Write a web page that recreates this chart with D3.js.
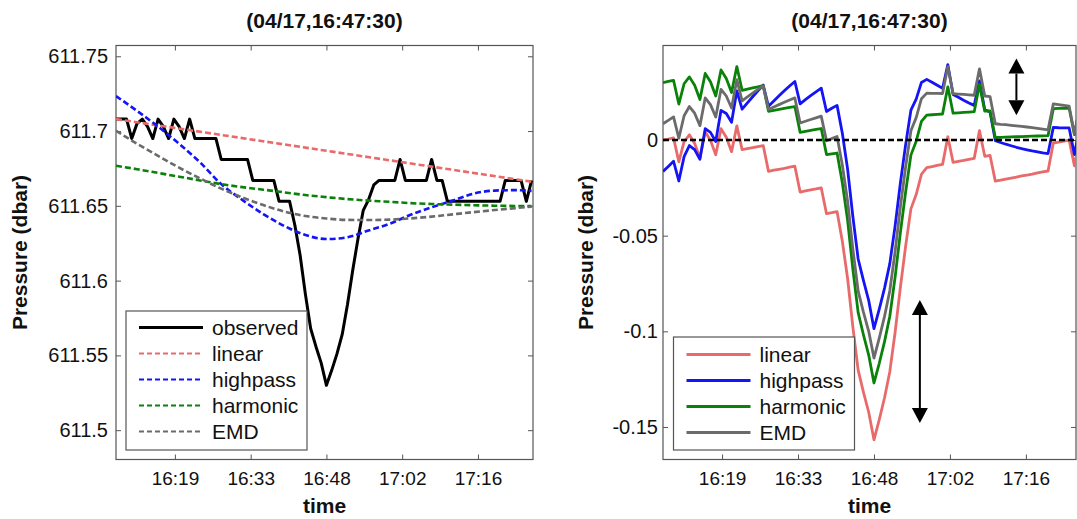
<!DOCTYPE html>
<html>
  <head>
    <meta charset="utf-8">
  </head>
  <body>
    <style>
      body { margin: 0; background: #fff; }
      svg { display: block; }
      text { font-family: Arial, "Liberation Sans", sans-serif; fill: #111; }
    </style>
    <script src="https://d3js.org/d3.v7.min.js"></script>
    <script type="text/javascript">
      const width = 1077;
      const height = 519;
      const titleText = '(04/17,16:47:30)';

      // one sample per minute
      const times = [
        '16:08', '16:09', '16:10', '16:11', '16:12', '16:13', '16:14', '16:15', '16:16', '16:17',
        '16:18', '16:19', '16:20', '16:21', '16:22', '16:23', '16:24', '16:25', '16:26', '16:27',
        '16:28', '16:29', '16:30', '16:31', '16:32', '16:33', '16:34', '16:35', '16:36', '16:37',
        '16:38', '16:39', '16:40', '16:41', '16:42', '16:43', '16:44', '16:45', '16:46', '16:47',
        '16:48', '16:49', '16:50', '16:51', '16:52', '16:53', '16:54', '16:55', '16:56', '16:57',
        '16:58', '16:59', '17:00', '17:01', '17:02', '17:03', '17:04', '17:05', '17:06', '17:07',
        '17:08', '17:09', '17:10', '17:11', '17:12', '17:13', '17:14', '17:15', '17:16', '17:17',
        '17:18', '17:19', '17:20', '17:21', '17:22', '17:23', '17:24', '17:25', '17:26', '17:27'
      ];
      const observed = [
        611.708, 611.708, 611.708, 611.695, 611.705, 611.708, 611.703, 611.695, 611.708, 611.703,
        611.695, 611.708, 611.703, 611.695, 611.708, 611.695, 611.695, 611.695, 611.695, 611.695,
        611.681, 611.681, 611.681, 611.681, 611.681, 611.681, 611.667, 611.667, 611.667, 611.667,
        611.667, 611.653, 611.653, 611.653, 611.637, 611.617, 611.591, 611.568, 611.556, 611.545,
        611.530, 611.540, 611.551, 611.564, 611.584, 611.607, 611.628, 611.647, 611.654, 611.664,
        611.667, 611.667, 611.667, 611.667, 611.681, 611.667, 611.667, 611.667, 611.667, 611.667,
        611.681, 611.667, 611.667, 611.653, 611.653, 611.653, 611.653, 611.653, 611.653, 611.653,
        611.653, 611.653, 611.653, 611.653, 611.667, 611.667, 611.667, 611.667, 611.653, 611.667
      ];

      // fitted trends (left panel)
      const linearTimes = ['16:08:00', '17:27:16'];
      const linearTrend = [611.708, 611.666];
      const trendTimes = [
        '16:08', '16:12', '16:16', '16:20', '16:24', '16:28', '16:32', '16:36', '16:40', '16:44', '16:48',
        '16:52', '16:56', '17:00', '17:04', '17:08', '17:12', '17:16', '17:20', '17:24', '17:27'
      ];
      const highpassTrend = [
        611.7234, 611.7135, 611.7030, 611.6915, 611.6790, 611.6645, 611.6540, 611.6445, 611.6365, 611.6305, 611.6278,
        611.6290, 611.6335, 611.6380, 611.6440, 611.6490, 611.6535, 611.6582, 611.6602, 611.6605, 611.6600
      ];
      const harmonicTrend = [
        611.6768, 611.6745, 611.6720, 611.6695, 611.6670, 611.6645, 611.6625, 611.6608, 611.6590, 611.6572, 611.6558,
        611.6545, 611.6535, 611.6527, 611.6518, 611.6512, 611.6508, 611.6504, 611.6501, 611.6499, 611.6498
      ];
      const emdTrend = [
        611.7002, 611.6915, 611.6834, 611.6755, 611.6683, 611.6615, 611.6556, 611.6505, 611.6462, 611.6432, 611.6415,
        611.6406, 611.6405, 611.6408, 611.6416, 611.6428, 611.6443, 611.6458, 611.6472, 611.6485, 611.6494
      ];

      // detided residuals (right panel), same minutes as observed
      const linearResidual = [
        0.0000, 0.0005, 0.0011, -0.0114, -0.0009, 0.0027, -0.0018, -0.0093, 0.0043, -0.0002,
        -0.0077, 0.0059, 0.0014, -0.0061, 0.0074, -0.0050, -0.0045, -0.0040, -0.0034, -0.0029,
        -0.0164, -0.0158, -0.0153, -0.0148, -0.0142, -0.0137, -0.0272, -0.0266, -0.0261, -0.0256,
        -0.0250, -0.0385, -0.0380, -0.0374, -0.0529, -0.0724, -0.0978, -0.1203, -0.1318, -0.1423,
        -0.1567, -0.1462, -0.1347, -0.1211, -0.1006, -0.0771, -0.0555, -0.0360, -0.0285, -0.0179,
        -0.0144, -0.0139, -0.0133, -0.0128, 0.0017, -0.0117, -0.0112, -0.0107, -0.0101, -0.0096,
        0.0049, -0.0085, -0.0080, -0.0215, -0.0210, -0.0204, -0.0199, -0.0194, -0.0188, -0.0183,
        -0.0178, -0.0172, -0.0167, -0.0162, -0.0016, -0.0011, -0.0006, 0.0000, -0.0135, 0.0010
      ];
      const highpassResidual = [
        -0.0165, -0.0138, -0.0111, -0.0214, -0.0087, -0.0029, -0.0050, -0.0101, 0.0059, 0.0040,
        -0.0008, 0.0155, 0.0139, 0.0093, 0.0257, 0.0161, 0.0194, 0.0226, 0.0257, 0.0287,
        0.0176, 0.0204, 0.0231, 0.0257, 0.0282, 0.0306, 0.0189, 0.0211, 0.0232, 0.0252,
        0.0271, 0.0149, 0.0166, 0.0181, 0.0035, -0.0152, -0.0401, -0.0622, -0.0734, -0.0839,
        -0.0986, -0.0884, -0.0774, -0.0646, -0.0450, -0.0226, -0.0024, 0.0156, 0.0214, 0.0301,
        0.0317, 0.0302, 0.0286, 0.0270, 0.0394, 0.0238, 0.0223, 0.0208, 0.0194, 0.0181,
        0.0309, 0.0158, 0.0147, -0.0003, -0.0013, -0.0022, -0.0030, -0.0038, -0.0045, -0.0051,
        -0.0057, -0.0062, -0.0067, -0.0071, 0.0066, 0.0064, 0.0063, 0.0063, -0.0076, 0.0066
      ];
      const harmonicResidual = [
        0.0300, 0.0306, 0.0312, 0.0188, 0.0294, 0.0330, 0.0286, 0.0212, 0.0348, 0.0304,
        0.0230, 0.0366, 0.0322, 0.0248, 0.0384, 0.0260, 0.0266, 0.0272, 0.0278, 0.0284,
        0.0150, 0.0155, 0.0160, 0.0165, 0.0170, 0.0175, 0.0040, 0.0045, 0.0050, 0.0055,
        0.0060, -0.0076, -0.0072, -0.0068, -0.0224, -0.0420, -0.0676, -0.0902, -0.1018, -0.1124,
        -0.1270, -0.1167, -0.1054, -0.0921, -0.0718, -0.0485, -0.0272, -0.0079, -0.0006, 0.0097,
        0.0130, 0.0132, 0.0134, 0.0136, 0.0278, 0.0140, 0.0142, 0.0144, 0.0146, 0.0148,
        0.0290, 0.0151, 0.0152, 0.0013, 0.0014, 0.0015, 0.0016, 0.0017, 0.0018, 0.0019,
        0.0020, 0.0021, 0.0022, 0.0023, 0.0164, 0.0165, 0.0166, 0.0167, 0.0028, 0.0169
      ];
      const emdResidual = [
        0.0085, 0.0103, 0.0121, 0.0009, 0.0127, 0.0175, 0.0140, 0.0075, 0.0220, 0.0185,
        0.0120, 0.0265, 0.0230, 0.0167, 0.0315, 0.0205, 0.0225, 0.0245, 0.0265, 0.0283,
        0.0160, 0.0173, 0.0185, 0.0197, 0.0209, 0.0220, 0.0089, 0.0098, 0.0107, 0.0116,
        0.0125, -0.0004, 0.0007, 0.0018, -0.0131, -0.0320, -0.0570, -0.0790, -0.0900, -0.1000,
        -0.1140, -0.1036, -0.0922, -0.0788, -0.0584, -0.0350, -0.0141, 0.0048, 0.0117, 0.0216,
        0.0245, 0.0244, 0.0244, 0.0243, 0.0383, 0.0242, 0.0240, 0.0238, 0.0236, 0.0234,
        0.0372, 0.0230, 0.0227, 0.0085, 0.0082, 0.0080, 0.0077, 0.0074, 0.0071, 0.0068,
        0.0065, 0.0061, 0.0057, 0.0053, 0.0189, 0.0185, 0.0181, 0.0177, 0.0033, 0.0170
      ];

      const xTickTimes = ['16:19:12', '16:33:36', '16:48:00', '17:02:24', '17:16:48'];
      const leftYTicks = [611.5, 611.55, 611.6, 611.65, 611.7, 611.75];
      const rightYTicks = [-0.15, -0.1, -0.05, 0];
      const leftLegend = ['observed', 'linear', 'highpass', 'harmonic', 'EMD'];
      const rightLegend = ['linear', 'highpass', 'harmonic', 'EMD'];
      // double arrows: time, upper tip, lower tip (dbar)
      const arrows = [
        { time: '17:15:00', top: 0.0426, bottom: 0.0130 },
        { time: '16:56:42', top: -0.0836, bottom: -0.1479 }
      ];

      const colors = {
        observed: '#000000',
        linear: '#e86a6a',
        highpass: '#1414f5',
        harmonic: '#0a820a',
        EMD: '#6b6b6b'
      };
      const axisColor = '#555';
      const plainNumber = (d) => String(d);

      const parseTime = (s) => d3.utcParse(s.length > 5 ? '%H:%M:%S' : '%H:%M')(s);
      const sampleDates = times.map(parseTime);
      const tickDates = xTickTimes.map(parseTime);

      const svg = d3.select('body')
        .append('svg')
        .attr('width', width)
        .attr('height', height);

      function drawFrame(x, y, yTicks, yPad, id, ylabelX) {
        const [x0, x1] = x.range();
        const [yb, yt] = y.range();
        const g = svg.append('g');
        const style = (a) => {
          a.select('.domain').remove();
          a.selectAll('line').attr('stroke', axisColor);
          a.selectAll('text').attr('font-family', 'Arial, "Liberation Sans", sans-serif').attr('fill', '#111');
        };
        g.append('g')
          .attr('transform', `translate(0,${yb})`)
          .call(d3.axisBottom(x).tickValues(tickDates).tickFormat(d3.utcFormat('%H:%M'))
            .tickSizeInner(-5).tickSizeOuter(0).tickPadding(12))
          .call(style)
          .selectAll('text').attr('font-size', 19);
        g.append('g')
          .attr('transform', `translate(0,${yt})`)
          .call(d3.axisTop(x).tickValues(tickDates).tickFormat('').tickSizeInner(-5).tickSizeOuter(0))
          .call(style);
        g.append('g')
          .attr('transform', `translate(${x0},0)`)
          .call(d3.axisLeft(y).tickValues(yTicks).tickFormat(plainNumber).tickSizeInner(-5).tickSizeOuter(0).tickPadding(yPad))
          .call(style)
          .selectAll('text').attr('font-size', 20);
        g.append('g')
          .attr('transform', `translate(${x1},0)`)
          .call(d3.axisRight(y).tickValues(yTicks).tickFormat('').tickSizeInner(-5).tickSizeOuter(0))
          .call(style);
        g.append('rect')
          .attr('x', x0).attr('y', yt)
          .attr('width', x1 - x0).attr('height', yb - yt)
          .attr('fill', 'none').attr('stroke', axisColor).attr('stroke-width', 1.2);

        svg.append('text')
          .attr('x', (x0 + x1) / 2).attr('y', 28)
          .attr('text-anchor', 'middle')
          .attr('font-size', 21).attr('font-weight', 'bold')
          .text(titleText);
        svg.append('text')
          .attr('x', (x0 + x1) / 2).attr('y', 513)
          .attr('text-anchor', 'middle')
          .attr('font-size', 21).attr('font-weight', 'bold')
          .text('time');
        svg.append('text')
          .attr('transform', `translate(${ylabelX},${(yt + yb) / 2}) rotate(-90)`)
          .attr('text-anchor', 'middle')
          .attr('dy', '0.35em')
          .attr('font-size', 21).attr('font-weight', 'bold')
          .text('Pressure (dbar)');

        svg.append('clipPath').attr('id', id)
          .append('rect')
          .attr('x', x0).attr('y', yt)
          .attr('width', x1 - x0).attr('height', yb - yt);
        return svg.append('g').attr('clip-path', `url(#${id})`);
      }

      function drawLegend(labels, box, row0, step, dashed) {
        const g = svg.append('g');
        g.append('rect')
          .attr('x', box[0]).attr('y', box[1])
          .attr('width', box[2]).attr('height', box[3])
          .attr('fill', '#fff').attr('stroke', axisColor).attr('stroke-width', 1.2);
        labels.forEach((label, i) => {
          const yy = row0 + i * step;
          const isDashed = dashed && label !== 'observed';
          g.append('line')
            .attr('x1', box[0] + 13).attr('x2', box[0] + 77)
            .attr('y1', yy).attr('y2', yy)
            .attr('stroke', colors[label])
            .attr('stroke-width', isDashed ? 2.2 : 3)
            .attr('stroke-dasharray', isDashed ? '5,3' : null);
          g.append('text')
            .attr('x', box[0] + 86).attr('y', yy)
            .attr('dy', '0.36em')
            .attr('font-size', 21)
            .text(label);
        });
      }

      // ---------- left panel: observed and trends ----------
      const xLeft = d3.scaleUtc()
        .domain([parseTime('16:08:00'), parseTime('17:27:16')])
        .range([116, 533]);
      const yLeft = d3.scaleLinear()
        .domain([611.4804, 611.7572])
        .range([459.5, 45.5]);
      const leftPlot = drawFrame(xLeft, yLeft, leftYTicks, 8, 'clipLeft', 20);

      const trendLine = d3.line()
        .x((d) => xLeft(d[0]))
        .y((d) => yLeft(d[1]))
        .curve(d3.curveMonotoneX);
      const trends = [
        { key: 'linear', dates: linearTimes.map(parseTime), values: linearTrend },
        { key: 'highpass', dates: trendTimes.map(parseTime), values: highpassTrend },
        { key: 'harmonic', dates: trendTimes.map(parseTime), values: harmonicTrend },
        { key: 'EMD', dates: trendTimes.map(parseTime), values: emdTrend }
      ];
      leftPlot.append('path')
        .datum(d3.zip(sampleDates, observed))
        .attr('d', d3.line().x((d) => xLeft(d[0])).y((d) => yLeft(d[1])))
        .attr('fill', 'none')
        .attr('stroke', colors.observed)
        .attr('stroke-width', 3)
        .attr('stroke-linejoin', 'round');
      trends.forEach((t) => {
        leftPlot.append('path')
          .datum(d3.zip(t.dates, t.values))
          .attr('d', trendLine)
          .attr('fill', 'none')
          .attr('stroke', colors[t.key])
          .attr('stroke-width', 2.6)
          .attr('stroke-dasharray', '6,3');
      });
      drawLegend(leftLegend, [126, 311, 181, 139], 327.5, 26, true);

      // ---------- right panel: residuals ----------
      const xRight = d3.scaleUtc()
        .domain([parseTime('16:08:00'), parseTime('17:26:18')])
        .range([663, 1076]);
      const yRight = d3.scaleLinear()
        .domain([-0.1670, 0.0494])
        .range([459.5, 45.5]);
      const rightPlot = drawFrame(xRight, yRight, rightYTicks, 5, 'clipRight', 586);

      const residualLine = d3.line()
        .x((d) => xRight(d[0]))
        .y((d) => yRight(d[1]));
      const residuals = [
        { key: 'linear', values: linearResidual },
        { key: 'highpass', values: highpassResidual },
        { key: 'harmonic', values: harmonicResidual },
        { key: 'EMD', values: emdResidual }
      ];
      residuals.forEach((r) => {
        rightPlot.append('path')
          .datum(d3.zip(sampleDates, r.values))
          .attr('d', residualLine)
          .attr('fill', 'none')
          .attr('stroke', colors[r.key])
          .attr('stroke-width', 2.8)
          .attr('stroke-linejoin', 'round');
      });
      rightPlot.append('line')
        .attr('x1', xRight.range()[0]).attr('x2', xRight.range()[1])
        .attr('y1', yRight(0)).attr('y2', yRight(0))
        .attr('stroke', '#000')
        .attr('stroke-width', 2.6)
        .attr('stroke-dasharray', '6,3');

      arrows.forEach((a) => {
        const ax = xRight(parseTime(a.time));
        const yTop = yRight(a.top);
        const yBot = yRight(a.bottom);
        const head = 15;
        const half = 8;
        rightPlot.append('line')
          .attr('x1', ax).attr('x2', ax)
          .attr('y1', yTop + head).attr('y2', yBot - head)
          .attr('stroke', '#000').attr('stroke-width', 2);
        rightPlot.append('path')
          .attr('d', `M${ax},${yTop}L${ax - half},${yTop + head}L${ax + half},${yTop + head}Z`)
          .attr('fill', '#000');
        rightPlot.append('path')
          .attr('d', `M${ax},${yBot}L${ax - half},${yBot - head}L${ax + half},${yBot - head}Z`)
          .attr('fill', '#000');
      });
      drawLegend(rightLegend, [673.5, 337, 181, 113], 354.5, 26, false);
    </script>
  </body>
</html>
